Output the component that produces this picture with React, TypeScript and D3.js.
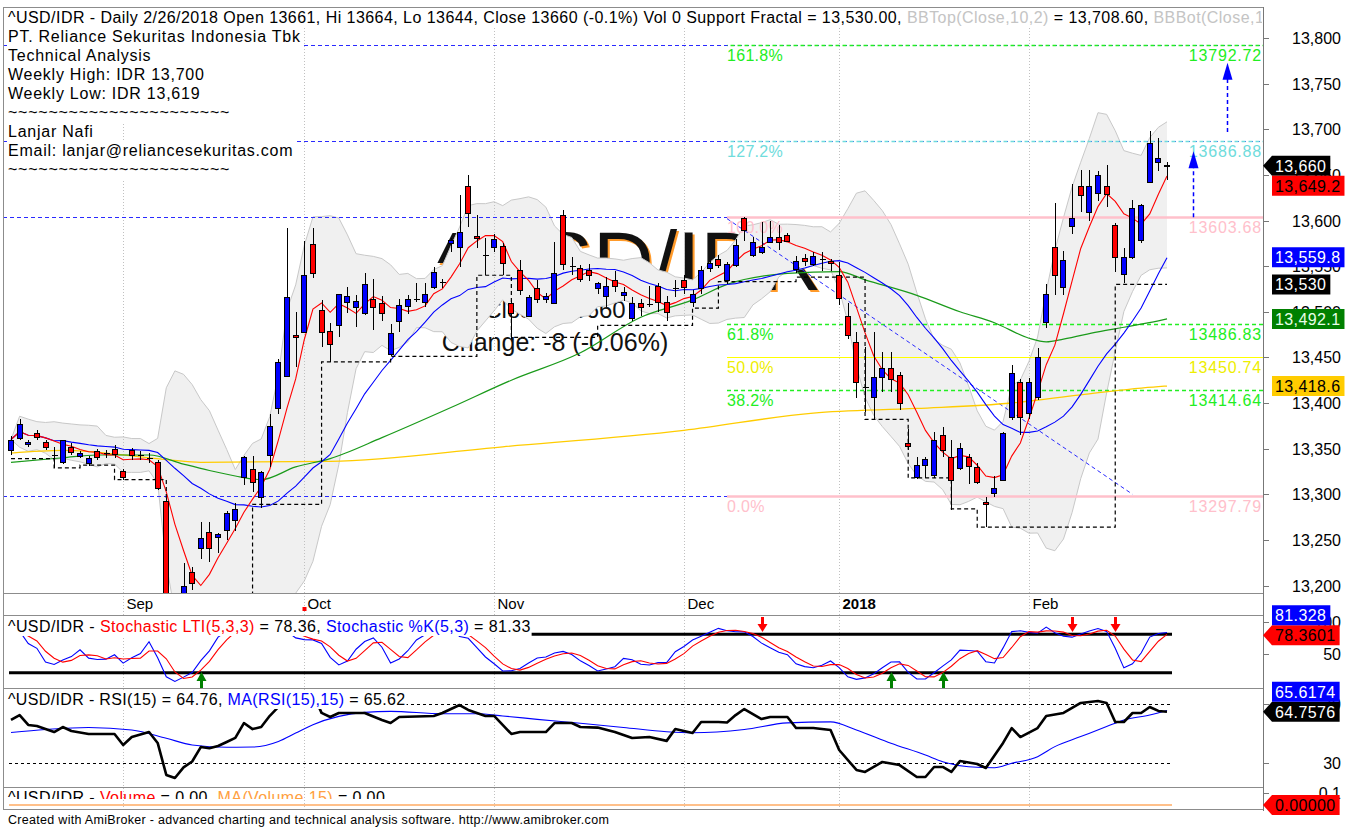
import React from 'react';
import * as d3 from 'd3';

const FONT = '"Liberation Sans", Arial, Helvetica, sans-serif';

// ---------------- price data ----------------
const opens = [
  13349, 13362, 13355, 13367, 13357, 13343, 13335, 13352, 13342, 13334,
  13347, 13345, 13350, 13326, 13348, 13343, 13340, 13335, 13293, 13178,
  13188, 13215, 13241, 13259, 13253, 13261, 13272, 13319, 13328, 13297,
  13343, 13395, 13430, 13474, 13478, 13574, 13502, 13479, 13485, 13511,
  13505, 13499, 13514, 13510, 13454, 13490, 13506, 13514, 13511, 13527,
  13533, 13575, 13571, 13638, 13583, 13562, 13571, 13572, 13510, 13546,
  13495, 13526, 13514, 13510, 13606, 13550, 13548, 13546, 13526, 13517,
  13535, 13518, 13493, 13510, 13508, 13528, 13511, 13526, 13535, 13511,
  13526, 13548, 13558, 13535, 13551, 13603, 13562, 13566, 13576, 13582,
  13584, 13547, 13559, 13552, 13558, 13556, 13540, 13495, 13467, 13418,
  13407, 13428, 13438, 13431, 13356, 13319, 13332, 13321, 13365, 13341,
  13329, 13341, 13330, 13292, 13301, 13316, 13385, 13423, 13389, 13407,
  13489, 13571, 13527, 13594, 13638, 13609, 13630, 13638, 13595, 13541,
  13560, 13579, 13642, 13664, 13661,
];
const highs = [
  13364, 13382, 13359, 13370, 13360, 13352, 13360, 13356, 13347, 13342,
  13350, 13349, 13354, 13328, 13351, 13347, 13345, 13338, 13296, 13190,
  13225, 13220, 13270, 13270, 13258, 13282, 13290, 13342, 13342, 13325,
  13388, 13448, 13592, 13500, 13577, 13592, 13513, 13488, 13520, 13527,
  13518, 13542, 13536, 13517, 13487, 13514, 13518, 13531, 13532, 13549,
  13536, 13581, 13628, 13650, 13606, 13581, 13585, 13575, 13513, 13557,
  13518, 13535, 13521, 13576, 13612, 13560, 13551, 13552, 13533, 13538,
  13545, 13527, 13516, 13514, 13528, 13531, 13517, 13535, 13540, 13524,
  13550, 13556, 13562, 13555, 13580, 13604, 13582, 13598, 13600, 13595,
  13586, 13561, 13563, 13565, 13565, 13558, 13555, 13510, 13478, 13461,
  13478, 13456, 13456, 13434, 13371, 13341, 13341, 13368, 13374, 13359,
  13356, 13344, 13334, 13297, 13320, 13368, 13442, 13426, 13427, 13460,
  13530, 13619, 13567, 13640, 13655, 13655, 13654, 13661, 13597, 13570,
  13622, 13618, 13698, 13690, 13664,
];
const lows = [
  13343, 13359, 13352, 13359, 13349, 13329, 13333, 13343, 13340, 13331,
  13338, 13340, 13340, 13316, 13338, 13337, 13334, 13305, 13170, 13150,
  13180, 13195, 13229, 13226, 13236, 13250, 13260, 13310, 13302, 13285,
  13330, 13388, 13428, 13440, 13477, 13537, 13461, 13445, 13472, 13499,
  13483, 13496, 13480, 13490, 13451, 13478, 13497, 13511, 13505, 13525,
  13526, 13565, 13549, 13593, 13570, 13540, 13565, 13540, 13470, 13518,
  13494, 13510, 13510, 13510, 13546, 13540, 13533, 13534, 13520, 13505,
  13522, 13512, 13490, 13495, 13505, 13500, 13490, 13516, 13520, 13505,
  13520, 13544, 13548, 13530, 13549, 13577, 13560, 13563, 13575, 13568,
  13576, 13542, 13550, 13550, 13545, 13545, 13507, 13470, 13406, 13390,
  13382, 13412, 13412, 13392, 13349, 13317, 13318, 13318, 13341, 13283,
  13327, 13311, 13311, 13264, 13297, 13314, 13381, 13365, 13382, 13403,
  13482, 13518, 13518, 13585, 13609, 13600, 13621, 13615, 13544, 13531,
  13558, 13575, 13641, 13654, 13644,
];
const closes = [
  13360, 13377, 13357, 13363, 13352, 13343, 13359, 13346, 13345, 13340,
  13341, 13345, 13344, 13319, 13343, 13343, 13340, 13307, 13180, 13165,
  13200, 13203, 13252, 13241, 13256, 13279, 13284, 13341, 13313, 13324,
  13375, 13445, 13516, 13472, 13540, 13542, 13478, 13465, 13519, 13517,
  13512, 13530, 13505, 13499, 13477, 13507, 13514, 13514, 13520, 13544,
  13533, 13579, 13587, 13608, 13581, 13562, 13580, 13553, 13499, 13524,
  13516, 13514, 13517, 13542, 13552, 13550, 13536, 13540, 13531, 13528,
  13528, 13522, 13510, 13505, 13508, 13511, 13500, 13526, 13527, 13520,
  13546, 13553, 13551, 13552, 13573, 13590, 13576, 13571, 13582, 13576,
  13578, 13556, 13556, 13561, 13558, 13553, 13515, 13475, 13423, 13418,
  13428, 13438, 13426, 13400, 13353, 13332, 13339, 13359, 13348, 13316,
  13351, 13331, 13313, 13289, 13307, 13367, 13433, 13385, 13423, 13450,
  13519, 13540, 13557, 13603, 13628, 13638, 13650, 13629, 13560, 13560,
  13614, 13617, 13685, 13668, 13660,
];

// month ticks (bar index of first bar of month)
const monthIdx = [13, 34, 56, 78, 96, 118];
const monthLabels = ['Sep', 'Oct', 'Nov', 'Dec', '2018', 'Feb'];

// long moving averages
const greenIdx = [0, 6, 10, 16, 20, 23, 26, 29, 33, 37, 43, 51, 58, 66, 73, 79, 83, 90, 96, 99, 105, 110, 114, 118, 120, 122, 126, 129, 133, 134];
const greenVal = [13335, 13340, 13343, 13343, 13333, 13326, 13320, 13316, 13330, 13339, 13362, 13395, 13425, 13455, 13494, 13513, 13530, 13542, 13544, 13535, 13518, 13500, 13488, 13471, 13467, 13470, 13478, 13483, 13490, 13492.1];
const yellowIdx = [0, 6, 18, 22, 37, 57, 78, 93, 105, 116, 124, 133, 134];
const yellowVal = [13345, 13348, 13338, 13335, 13336, 13352, 13370, 13389, 13394, 13400, 13409, 13418, 13418.6];

// support fractal (step)
const fractalIdx = [0, 5, 8, 12, 18, 28, 36, 44, 54, 58, 68, 79, 82, 91, 99, 104, 109, 112, 128];
const fractalVal = [13339, 13329, 13332, 13316, 13150, 13289, 13445, 13451, 13540, 13472, 13485, 13504, 13533, 13538, 13382, 13318, 13284, 13264, 13530];

// fibonacci
const fibPct = ['161.8%', '127.2%', '100.0%', '61.8%', '50.0%', '38.2%', '0.0%'];
const fibVal = [13792.72, 13686.88, 13603.68, 13486.83, 13450.74, 13414.64, 13297.79];
const fibColor = ['#22ee22', '#6fdcdc', '#ffc0cb', '#22ee22', '#ffff00', '#22ee22', '#ffc0cb'];
const fibLabelColor = ['#22ee22', '#6fdcdc', '#ffc0cb', '#22ee22', '#eeee00', '#22ee22', '#ffc0cb'];
const fibStartIdx = 83;
const resistVal = [13792.72, 13686.88, 13603.68, 13297.79];
const trendIdx = [83, 130];
const trendVal = [13602, 13300];
const arrowIdx = [141, 137];
const arrowFrom = [13697, 13603.68];
const arrowTo = [13773, 13676];

// indicators
const rsiIdx = [0,1,2,3,5,6,7,9,12,13,14,16,17,18,19,20,21,22,23,24,25,26,27,28,29,30,31,32,33,34,35,36,37,38,41,43,44,45,49,50,52,53,55,56,58,59,62,63,65,66,68,70,72,74,76,77,79,80,82,83,84,85,87,88,90,91,93,95,96,98,99,101,103,105,106,107,108,109,110,112,113,115,116,117,119,120,122,124,126,127,128,129,130,131,132,133,134];
const rsiVal = [59.2,62.5,55.8,55.1,51,54.4,51.7,49.7,49.7,42.2,47.6,51,43.6,21.9,19.8,27,31,40.8,40,41.5,44.2,47,57.1,53,54.4,62,68,76,72,78,77,64,61.2,63.9,63.9,59.2,57.1,61.2,61.9,63.9,69.3,66,61.9,61.9,49.7,51,51,57.1,57.1,54.4,54,51,47,47.6,45,53,50.3,57.8,57.8,57.5,62.5,66.6,59.8,61.2,61.2,53.7,53.7,52.4,38.8,25.3,23.9,30.7,28.6,20.5,20.5,27.3,27.3,23.9,31.4,29.3,26.6,43.6,53.7,47.6,53.7,61.9,63.9,70.7,72,70.7,57.8,57.8,63.9,63.9,68,65.3,64.76];
const maRsiIdx = [0,4,9,14,18,21,25,28,31,33,35,38,41,44,50,54,57,61,66,71,76,79,85,90,95,98,102,106,108,111,114,116,119,121,124,127,129,132,134];
const maRsiVal = [50.7,52.7,54.1,52.4,46.8,42.2,40.7,40.8,44.6,50.3,56,61.6,64.3,65,63.4,63.4,61.9,59.6,56.9,54.1,51.2,50.5,52.7,57.2,57.9,52.4,43.4,35.4,30.9,27.5,26.8,29.8,34.3,41.1,47.9,54.7,59.2,62.5,65.62];

const sellIdx = [87, 123, 128];
const buyIdx = [22, 102, 108];

const priceTicks = [13200, 13250, 13300, 13350, 13400, 13450, 13500, 13550, 13600, 13650, 13700, 13750, 13800];
const stochTicks = [50, 100];
const rsiTicks = [30, 70];
const volTicks = [0.1];

const infoLines = [
  'PT. Reliance Sekuritas Indonesia Tbk',
  'Technical Analysis',
  'Weekly High: IDR 13,700',
  'Weekly Low: IDR 13,619',
  '~~~~~~~~~~~~~~~~~~~~~~',
  'Lanjar Nafi',
  'Email: lanjar@reliancesekuritas.com',
  '~~~~~~~~~~~~~~~~~~~~~~',
];

type Seg = { t: string; c: string };
const mainTitle: Seg[] = [
  { t: '^USD/IDR - Daily 2/26/2018 Open 13661, Hi 13664, Lo 13644, Close 13660 (-0.1%) Vol 0 Support Fractal = 13,530.00, ', c: '#000' },
  { t: 'BBTop(Close,10,2)', c: '#c4c4c4' },
  { t: ' = 13,708.60, ', c: '#000' },
  { t: 'BBBot(Close,10,2)', c: '#c4c4c4' },
  { t: ' = 13,547.60', c: '#000' },
];
const stochTitle: Seg[] = [
  { t: '^USD/IDR - ', c: '#000' },
  { t: 'Stochastic LTI(5,3,3)', c: '#ff0000' },
  { t: ' = 78.36, ', c: '#000' },
  { t: 'Stochastic %K(5,3)', c: '#0000ff' },
  { t: ' = 81.33', c: '#000' },
];
const rsiTitle: Seg[] = [
  { t: '^USD/IDR - RSI(15) = 64.76, ', c: '#000' },
  { t: 'MA(RSI(15),15)', c: '#0000ff' },
  { t: ' = 65.62', c: '#000' },
];
const volTitle: Seg[] = [
  { t: '^USD/IDR - ', c: '#000' },
  { t: 'Volume', c: '#ff0000' },
  { t: ' = 0.00, ', c: '#000' },
  { t: 'MA(Volume,15)', c: '#ffa040' },
  { t: ' = 0.00', c: '#000' },
];

type Box = { v: number; text: string; bg: string; fg: string; arrow?: boolean };
const mainBoxes: Box[] = [
  { v: 13660, text: '13,660', bg: '#000000', fg: '#ffffff', arrow: true },
  { v: 13649.2, text: '13,649.2', bg: '#ff0000', fg: '#000000' },
  { v: 13559.8, text: '13,559.8', bg: '#0000ff', fg: '#ffffff' },
  { v: 13530, text: '13,530', bg: '#000000', fg: '#ffffff' },
  { v: 13492.1, text: '13,492.1', bg: '#008000', fg: '#e8ffe8' },
  { v: 13418.6, text: '13,418.6', bg: '#ffcc00', fg: '#000000' },
];
const stochBoxes: Box[] = [
  { v: 78.3601, text: '78.3601', bg: '#ff0000', fg: '#000000', arrow: true },
  { v: 81.328, text: '81.328', bg: '#0000ff', fg: '#ffffff' },
];
const rsiBoxes: Box[] = [
  { v: 64.7576, text: '64.7576', bg: '#000000', fg: '#ffffff', arrow: true },
  { v: 65.6174, text: '65.6174', bg: '#0000ff', fg: '#ffffff' },
];
const volBoxes: Box[] = [{ v: 0, text: '0.00000', bg: '#ff0000', fg: '#000000', arrow: true }];

// ---------------- helpers ----------------
let ctx: CanvasRenderingContext2D | null = null;
function tw(t: string, size: number, weight = 'normal'): number {
  if (!ctx) ctx = document.createElement('canvas').getContext('2d');
  if (!ctx) return t.length * size * 0.55;
  ctx.font = `${weight} ${size}px "Liberation Sans", Arial, sans-serif`;
  return ctx.measureText(t).width;
}
function sma(a: number[], n: number): number[] {
  return a.map((_, i) => d3.mean(a.slice(Math.max(0, i - n + 1), i + 1)) as number);
}
function bbands(a: number[], n: number, k: number): [number, number][] {
  return a.map((_, i) => {
    const w = a.slice(Math.max(0, i - n + 1), i + 1);
    const m = d3.mean(w) as number;
    const sd = Math.sqrt(d3.mean(w.map((v) => (v - m) * (v - m))) as number);
    return [m + k * sd, m - k * sd];
  });
}
function stoch(h: number[], l: number[], c: number[]) {
  const num: number[] = [];
  const den: number[] = [];
  c.forEach((cv, i) => {
    const s = Math.max(0, i - 4);
    const ll = d3.min(l.slice(s, i + 1)) as number;
    const hh = d3.max(h.slice(s, i + 1)) as number;
    num.push(cv - ll);
    den.push(hh - ll);
  });
  const k = c.map((_, i) => {
    const s = Math.max(0, i - 2);
    const dn = d3.sum(den.slice(s, i + 1));
    return dn === 0 ? 50 : (100 * d3.sum(num.slice(s, i + 1))) / dn;
  });
  const d = sma(k, 3);
  return { k, d };
}
function placeBoxes(boxes: Box[], scale: (v: number) => number, h: number) {
  const placed: (Box & { y: number })[] = [];
  boxes.filter((b) => b.arrow).forEach((b) => placed.push({ ...b, y: scale(b.v) }));
  boxes.filter((b) => !b.arrow).forEach((b) => {
    let y = scale(b.v);
    for (let g = 0; g < 8; g++) {
      let moved = false;
      for (const p of placed) {
        if (Math.abs(p.y - y) < h - 0.01) {
          y = b.v > p.v ? p.y - h : p.y + h;
          moved = true;
        }
      }
      if (!moved) break;
    }
    placed.push({ ...b, y });
  });
  return placed;
}

const L = 3;
const R = 1263;
const MAIN_TOP = 7;
const MAIN_BOT = 593;
const STO_TOP = 615;
const RSI_TOP = 688;
const VOL_TOP = 787;
const BOTTOM = 809;

function TitleLine({ x, y, segs, size = 16, bg = true, ls = 0 }: { x: number; y: number; segs: Seg[]; size?: number; bg?: boolean; ls?: number }) {
  const total = d3.sum(segs.map((s) => tw(s.t, size) + s.t.length * ls));
  return (
    <g>
      {bg && <rect x={x - 1} y={y - 15} width={total + 2} height={19} fill="#ffffff" />}
      <text x={x} y={y} fontSize={size} fontFamily={FONT} letterSpacing={ls} style={{ whiteSpace: 'pre' }}>
        {segs.map((s, i) => (
          <tspan key={i} fill={s.c}>
            {s.t}
          </tspan>
        ))}
      </text>
    </g>
  );
}

function ValueBoxes({ boxes, scale }: { boxes: Box[]; scale: (v: number) => number }) {
  const h = 20;
  const placed = placeBoxes(boxes, scale, h);
  const x0 = 1272;
  return (
    <g>
      {placed.map((b, i) => {
        const w = tw(b.text, 16) + b.text.length * 0.4 + 7;
        const y = b.y;
        const d = b.arrow
          ? `M${R},${y} L${x0},${y - h / 2} L${x0 + w},${y - h / 2} L${x0 + w},${y + h / 2} L${x0},${y + h / 2} Z`
          : `M${x0},${y - h / 2} h${w} v${h} h${-w} Z`;
        return (
          <g key={i}>
            <path d={d} fill={b.bg} />
            <text x={x0 + 3} y={y + 6} fontSize={16} letterSpacing={0.4} fontFamily={FONT} fill={b.fg}>
              {b.text}
            </text>
          </g>
        );
      })}
    </g>
  );
}

export default function App() {
  const W = 1355;
  const H = 827;
  const last = closes.length - 1;
  const xS = d3.scaleLinear().domain([0, last]).range([11, 1167]);
  const yM = d3.scaleLinear().domain([13200, 13800]).range([585.5, 38]);
  const yS = d3.scaleLinear().domain([20, 80]).range([672.7, 634.3]);
  const yR = d3.scaleLinear().domain([30, 70]).range([763, 704]);
  const yV = d3.scaleLinear().domain([0, 0.1]).range([805, 793]);
  const px = (i: number) => Math.round(xS(i)) + 0.5;

  const idx = closes.map((_, i) => i);
  const ma5 = sma(closes, 5);
  const ma20 = sma(closes, 20);
  const bb = bbands(closes, 10, 2);
  const st = stoch(highs, lows, closes);

  const pathOf = (xs: number[], ys: number[], ysc: (v: number) => number, curve: d3.CurveFactory = d3.curveLinear) =>
    d3
      .line<number>()
      .x((_, i) => xS(xs[i]))
      .y((v) => ysc(v))
      .curve(curve)(ys) || '';

  const bandArea =
    d3
      .area<number>()
      .x((i) => xS(i))
      .y0((i) => yM(bb[i][1]))
      .y1((i) => yM(bb[i][0]))(idx) || '';
  const bandTop = d3.line<number>().x((i) => xS(i)).y((i) => yM(bb[i][0]))(idx) || '';
  const bandBot = d3.line<number>().x((i) => xS(i)).y((i) => yM(bb[i][1]))(idx) || '';

  const fracX = [...fractalIdx, last];
  const fracY = [...fractalVal, fractalVal[fractalVal.length - 1]];
  const fracPath = pathOf(fracX, fracY, yM, d3.curveStepAfter);

  const lineStartX = xS(0) - 2;
  const lineEndX = xS(last) + 5;

  return (
    <svg
      width={W}
      height={H}
      viewBox={`0 0 ${W} ${H}`}
      style={{ position: 'absolute', left: 0, top: 0, display: 'block', background: '#fff' }}
      fontFamily={FONT}
    >
      <defs>
        <clipPath id="clipMain">
          <rect x={L} y={MAIN_TOP} width={R - L} height={MAIN_BOT - MAIN_TOP} />
        </clipPath>
        <clipPath id="clipSto">
          <rect x={L} y={STO_TOP} width={R - L} height={RSI_TOP - STO_TOP} />
        </clipPath>
        <clipPath id="clipRsi">
          <rect x={L} y={RSI_TOP} width={R - L} height={VOL_TOP - RSI_TOP} />
        </clipPath>
        <clipPath id="clipVolTitle">
          <rect x={L} y={VOL_TOP} width={R - L} height={12} />
        </clipPath>
        <clipPath id="clipTitle">
          <rect x={L} y={MAIN_TOP} width={R - L - 1} height={30} />
        </clipPath>
      </defs>
      <rect x={0} y={0} width={W} height={H} fill="#ffffff" />

      {/* ---------------- main panel ---------------- */}
      <g clipPath="url(#clipMain)">
        {/* watermark */}
        <text x={439} y={292} fontSize={84} fill="#ff9a2a" fontFamily={FONT}>
          ^USD/IDR
        </text>
        <text x={437} y={290} fontSize={84} fill="#111" fontFamily={FONT}>
          ^USD/IDR
        </text>
        <text x={555} y={318} fontSize={24} fill="#111" textAnchor="middle" fontFamily={FONT}>
          Close: 13660
        </text>
        <text x={555} y={351} fontSize={25} fill="#111" textAnchor="middle" fontFamily={FONT}>
          Change: -8 (-0.06%)
        </text>

        {/* bollinger band */}
        <path d={bandArea} fill="#f0f0f0" />
        <path d={bandTop} fill="none" stroke="#c8c8c8" strokeWidth={1} />
        <path d={bandBot} fill="none" stroke="#c8c8c8" strokeWidth={1} />

        {/* month grid */}
        {monthIdx.map((m) => (
          <line key={m} x1={px(m)} x2={px(m)} y1={MAIN_TOP} y2={MAIN_BOT} stroke="#c0c0c0" strokeDasharray="1,2" />
        ))}

        {/* resistance / support blue dashed */}
        {resistVal.map((v) => (
          <line key={v} x1={L} x2={R} y1={Math.round(yM(v)) + 0.5} y2={Math.round(yM(v)) + 0.5} stroke="#2a2aff" strokeDasharray="4,3" />
        ))}
        {/* fibonacci lines */}
        {fibVal.map((v, i) => {
          const y = Math.round(yM(v)) + 0.5;
          const pink = fibColor[i] === '#ffc0cb';
          const dashed = fibColor[i] !== '#ffc0cb' && fibColor[i] !== '#ffff00';
          return (
            <line
              key={v}
              x1={xS(fibStartIdx)}
              x2={R}
              y1={y}
              y2={y}
              stroke={fibColor[i]}
              strokeWidth={pink ? 2.5 : dashed ? 1.3 : 1.2}
              strokeDasharray={dashed ? '4,3' : undefined}
              strokeDashoffset={i < 2 ? 3.5 : 0}
            />
          );
        })}
        {fibVal.map((v, i) => (
          <g key={'fl' + v}>
            <text x={xS(fibStartIdx)} y={yM(v) + 16} fontSize={16} letterSpacing={0.3} fill={fibLabelColor[i]} fontFamily={FONT}>
              {fibPct[i]}
            </text>
            <text x={R - 1} y={yM(v) + 16} fontSize={16} letterSpacing={0.8} fill={fibLabelColor[i]} textAnchor="end" fontFamily={FONT}>
              {v.toFixed(2)}
            </text>
          </g>
        ))}

        {/* trend line */}
        <line x1={xS(trendIdx[0])} y1={yM(trendVal[0])} x2={xS(trendIdx[1])} y2={yM(trendVal[1])} stroke="#2a2aff" strokeDasharray="4,3" />

        {/* target arrows */}
        {arrowIdx.map((a, i) => {
          const x = Math.round(xS(a)) + 0.5;
          const yTip = yM(arrowTo[i]);
          return (
            <g key={'ar' + a}>
              <line x1={x} x2={x} y1={yM(arrowFrom[i])} y2={yTip + 14} stroke="#0000ff" strokeWidth={1.5} strokeDasharray="4,3" />
              <path d={`M${x},${yTip} L${x - 5},${yTip + 17} L${x + 5},${yTip + 17} Z`} fill="#0000ff" />
            </g>
          );
        })}

        {/* moving averages */}
        <path d={pathOf(yellowIdx, yellowVal, yM, d3.curveMonotoneX)} fill="none" stroke="#ffcc00" strokeWidth={1.3} />
        <path d={pathOf(greenIdx, greenVal, yM, d3.curveMonotoneX)} fill="none" stroke="#1a9a1a" strokeWidth={1.2} />
        <path d={pathOf(idx, ma20, yM)} fill="none" stroke="#0000ff" strokeWidth={1.1} />
        <path d={pathOf(idx, ma5, yM)} fill="none" stroke="#ff0000" strokeWidth={1.1} />

        {/* support fractal */}
        <path d={fracPath} fill="none" stroke="#000" strokeWidth={1.2} strokeDasharray="4,3" />

        {/* candles */}
        <g shapeRendering="crispEdges">
          {closes.map((c, i) => {
            const o = opens[i];
            const x = px(i);
            const yT = Math.round(yM(Math.max(o, c))) + 0.5;
            const yB = Math.round(yM(Math.min(o, c))) + 0.5;
            return (
              <g key={i}>
                <line x1={x} x2={x} y1={yM(highs[i])} y2={yM(lows[i])} stroke="#000" strokeWidth={1} />
                {o === c ? (
                  <line x1={x - 3} x2={x + 3} y1={yT} y2={yT} stroke="#000" strokeWidth={1.5} />
                ) : (
                  <rect x={x - 3} y={yT} width={5} height={Math.max(1, yB - yT)} fill={c > o ? '#0000ff' : '#ff0000'} stroke="#000" strokeWidth={1} />
                )}
              </g>
            );
          })}
        </g>

        {/* title block */}
        <g clipPath="url(#clipTitle)">
          <TitleLine x={8} y={23} segs={mainTitle} ls={0.45} />
        </g>
        {infoLines.map((t, i) => (
          <TitleLine key={i} x={8} y={42 + i * 19} segs={[{ t, c: '#000' }]} ls={0.75} />
        ))}
      </g>

      {/* date strip */}
      {monthIdx.map((m, i) => (
        <g key={'ml' + m}>
          <line x1={px(m)} x2={px(m)} y1={MAIN_BOT} y2={BOTTOM} stroke="#c0c0c0" strokeDasharray="1,2" />
          <text x={px(m) + 3} y={609} fontSize={15} fontWeight={monthLabels[i] === '2018' ? 'bold' : 'normal'} fill="#000" fontFamily={FONT}>
            {monthLabels[i]}
          </text>
        </g>
      ))}
      <rect x={px(34) - 2} y={607} width={4} height={4} fill="#ff0000" />

      {/* ---------------- stochastic panel ---------------- */}
      <g clipPath="url(#clipSto)">
        <line x1={lineStartX} x2={lineEndX} y1={yS(80)} y2={yS(80)} stroke="#000" strokeWidth={3} />
        <line x1={lineStartX} x2={lineEndX} y1={yS(20)} y2={yS(20)} stroke="#000" strokeWidth={3} />
        <path d={pathOf(idx, st.k, yS)} fill="none" stroke="#0000ff" strokeWidth={1.1} />
        <path d={pathOf(idx, st.d, yS)} fill="none" stroke="#ff0000" strokeWidth={1.1} />
        {sellIdx.map((s) => {
          const x = px(s);
          return (
            <g key={'s' + s}>
              <rect x={x - 1.5} y={617} width={3} height={8} fill="#ff0000" />
              <path d={`M${x - 5},${624} L${x + 5},${624} L${x},${632} Z`} fill="#ff0000" />
            </g>
          );
        })}
        {buyIdx.map((b) => {
          const x = px(b);
          return (
            <g key={'b' + b}>
              <path d={`M${x - 5},${681} L${x + 5},${681} L${x},${672} Z`} fill="#008000" />
              <rect x={x - 1.5} y={680} width={3} height={8} fill="#008000" />
            </g>
          );
        })}
        <TitleLine x={8} y={632} segs={stochTitle} ls={0.4} />
      </g>

      {/* ---------------- RSI panel ---------------- */}
      <g clipPath="url(#clipRsi)">
        <line x1={lineStartX} x2={lineEndX} y1={Math.round(yR(70)) + 0.5} y2={Math.round(yR(70)) + 0.5} stroke="#000" strokeDasharray="3,3" />
        <line x1={lineStartX} x2={lineEndX} y1={Math.round(yR(30)) + 0.5} y2={Math.round(yR(30)) + 0.5} stroke="#000" strokeDasharray="3,3" />
        <path d={pathOf(maRsiIdx, maRsiVal, yR, d3.curveMonotoneX)} fill="none" stroke="#0000ff" strokeWidth={1.1} />
        <path d={pathOf(rsiIdx, rsiVal, yR)} fill="none" stroke="#000" strokeWidth={2.6} strokeLinejoin="round" />
        <TitleLine x={8} y={705} segs={rsiTitle} ls={0.35} />
      </g>

      {/* ---------------- volume panel ---------------- */}
      <line x1={lineStartX} x2={lineEndX} y1={yV(0)} y2={yV(0)} stroke="#ffc08a" strokeWidth={2} />
      <g clipPath="url(#clipVolTitle)">
        <TitleLine x={8} y={803} segs={volTitle} bg={false} ls={0.4} />
      </g>

      {/* ---------------- frames ---------------- */}
      <g shapeRendering="crispEdges" stroke="#8c8c8c" fill="none">
        <rect x={L + 0.5} y={MAIN_TOP + 0.5} width={R - L} height={BOTTOM - MAIN_TOP} />
        <line x1={L} x2={R} y1={MAIN_BOT + 0.5} y2={MAIN_BOT + 0.5} />
        <line x1={L} x2={R} y1={STO_TOP + 0.5} y2={STO_TOP + 0.5} />
        <line x1={L} x2={R} y1={RSI_TOP + 0.5} y2={RSI_TOP + 0.5} />
        <line x1={L} x2={R} y1={VOL_TOP + 0.5} y2={VOL_TOP + 0.5} />
      </g>

      {/* ---------------- right axis ---------------- */}
      <g fontSize={16} fontFamily={FONT} fill="#000">
        {priceTicks.map((t) => (
          <g key={t}>
            <line x1={R} x2={R + 6} y1={Math.round(yM(t)) + 0.5} y2={Math.round(yM(t)) + 0.5} stroke="#777" />
            <text x={1341} y={yM(t) + 6} textAnchor="end">
              {d3.format(',')(t)}
            </text>
          </g>
        ))}
        {stochTicks.map((t) => (
          <g key={'st' + t}>
            <line x1={R} x2={R + 6} y1={Math.round(yS(t)) + 0.5} y2={Math.round(yS(t)) + 0.5} stroke="#777" />
            <text x={1341} y={yS(t) + 6} textAnchor="end">
              {t}
            </text>
          </g>
        ))}
        {rsiTicks.map((t) => (
          <g key={'rt' + t}>
            <line x1={R} x2={R + 6} y1={Math.round(yR(t)) + 0.5} y2={Math.round(yR(t)) + 0.5} stroke="#777" />
            <text x={1341} y={yR(t) + 6} textAnchor="end">
              {t}
            </text>
          </g>
        ))}
        {volTicks.map((t) => (
          <g key={'vt' + t}>
            <line x1={R} x2={R + 6} y1={Math.round(yV(t)) + 0.5} y2={Math.round(yV(t)) + 0.5} stroke="#777" />
            <text x={1341} y={yV(t) + 6} textAnchor="end">
              {t}
            </text>
          </g>
        ))}
      </g>
      <line x1={R + 0.5} x2={R + 0.5} y1={MAIN_TOP} y2={BOTTOM + 2} stroke="#777" />

      <ValueBoxes boxes={mainBoxes} scale={(v) => yM(v)} />
      <ValueBoxes boxes={stochBoxes} scale={(v) => yS(v)} />
      <ValueBoxes boxes={rsiBoxes} scale={(v) => yR(v)} />
      <ValueBoxes boxes={volBoxes} scale={(v) => yV(v)} />

      {/* footer */}
      <text x={8} y={824} fontSize={12.5} letterSpacing={0.3} fill="#000" fontFamily={FONT}>
        Created with AmiBroker - advanced charting and technical analysis software. http://www.amibroker.com
      </text>
    </svg>
  );
}
